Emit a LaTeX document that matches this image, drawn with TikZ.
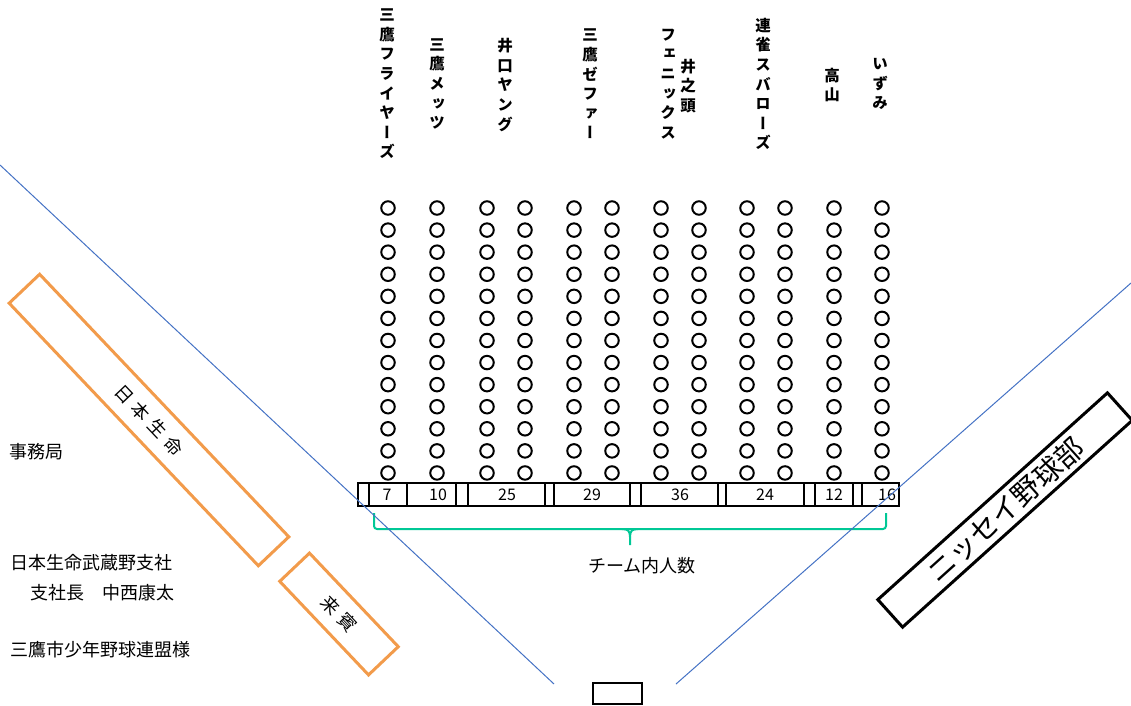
\documentclass[tikz,border=0pt]{standalone}
\usepackage{fontspec}
\setmainfont{Noto Sans CJK JP}
\newfontfamily\vfont[RawFeature=+vert]{Noto Sans CJK JP}
\definecolor{fieldblue}{HTML}{4472C4}
\definecolor{signorange}{HTML}{F29B4B}
\definecolor{bracegreen}{RGB}{0,200,150}
\begin{document}
\begin{tikzpicture}[x=1pt,y=-1pt,
  seat/.style={circle, draw, line width=2pt, minimum size=13.5pt, inner sep=0pt},
  teamlabel/.style={font=\vfont\bfseries\fontsize{15.5}{19.6}\selectfont, align=center, inner sep=0pt},
  cell/.style={draw, line width=1.8pt},
  count/.style={font=\fontsize{16}{18}\selectfont, inner sep=0pt},
  body/.style={font=\fontsize{18}{20}\selectfont, anchor=west, inner sep=0pt},
  sponsor/.style={draw=signorange, line width=3pt, inner sep=0pt, font=\fontsize{18}{20}\selectfont},
  clubbox/.style={draw, line width=3pt, inner sep=0pt, font=\fontsize{28.5}{30}\selectfont},
  foulline/.style={draw=fieldblue, line width=1pt},
  brace/.style={draw=bracegreen, line width=2pt}
]
\useasboundingbox (0,0) rectangle (1131,705);

% team labels (vertical)
\node[teamlabel] (t1) at (387,84) {三\\鷹\\フ\\ラ\\イ\\ヤ\\ー\\ズ};
\node[teamlabel] (t2) at (437,84) {三\\鷹\\メ\\ッ\\ツ};
\node[teamlabel] (t3) at (505,85) {井\\口\\ヤ\\ン\\グ};
\node[teamlabel] (t4) at (590,84) {三\\鷹\\ゼ\\フ\\ァ\\ー};
\node[teamlabel] (t5a) at (688,86) {井\\之\\頭};
\node[teamlabel] (t5b) at (668,84) {フ\\ェ\\ニ\\ッ\\ク\\ス};
\node[teamlabel] (t6) at (763,84) {連\\雀\\ス\\バ\\ロ\\ー\\ズ};
\node[teamlabel] (t7) at (832,85) {高\\山};
\node[teamlabel] (t8) at (880,84) {い\\ず\\み};

% seats
\foreach \x [count=\i] in {388,437,487,525,574,612,661,699,747,785,834,882}{
  \foreach \j in {0,...,12}{
    \node[seat] (s-\i-\j) at (\x,208+22.08*\j) {};
  }
}

% count row
\foreach \a/\b in {358/369,369/407,407/456,456/468,468/545,545/554,554/630,630/641,641/718,718/726,726/804,804/815,815/853,853/862,862/899}{
  \draw[cell] (\a,483) rectangle (\b,506);
}
\node[count] (n1) at (387,495) {7};
\node[count] (n2) at (438,495) {10};
\node[count] (n3) at (507,495) {25};
\node[count] (n4) at (592,495) {29};
\node[count] (n5) at (680,495) {36};
\node[count] (n6) at (765,495) {24};
\node[count] (n7) at (834,495) {12};
\node[count] (n8) at (887,495) {16};

% brace
\draw[brace, rounded corners=3pt] (374,513) -- (374,529) -- (886,529) -- (886,513);
\draw[brace] (622,529) .. controls (628,529) and (630,531) .. (630,537) -- (630,545);
\draw[brace] (638,529) .. controls (632,529) and (630,531) .. (630,537);
\node[font=\fontsize{18}{20}\selectfont, inner sep=0pt] (total) at (642,566) {チーム内人数};

% left texts
\node[body] (jimu) at (9,452) {事務局};
\node[body] (shisha) at (10,563) {日本生命武蔵野支社};
\node[body] (shachou) at (30,593) {支社長　中西康太};
\node[body] (renmei) at (10,650) {三鷹市少年野球連盟様};

% sponsor boards
\node[sponsor, minimum width=362pt, minimum height=42pt, rotate=-46.5] (nissay) at (149,420) {日\hspace{6pt}本\hspace{6pt}生\hspace{6pt}命};
\node[sponsor, minimum width=129pt, minimum height=41pt, rotate=-46.5] (guest) at (339,614) {来\hspace{6pt}賓};
\node[clubbox, minimum width=309pt, minimum height=37pt, rotate=42] (club) at (1005,510) {ニッセイ野球部};

% home plate box
\node[draw, line width=2pt, minimum width=49pt, minimum height=21pt, inner sep=0pt] (home) at (617.5,693.5) {};

% foul lines
\coordinate (fl1) at (0,165);
\coordinate (fl2) at (554,684);
\coordinate (fr1) at (1131,283);
\coordinate (fr2) at (676,684);
\draw[foulline] (fl1) -- (fl2);
\draw[foulline] (fr1) -- (fr2);
\end{tikzpicture}
\end{document}
